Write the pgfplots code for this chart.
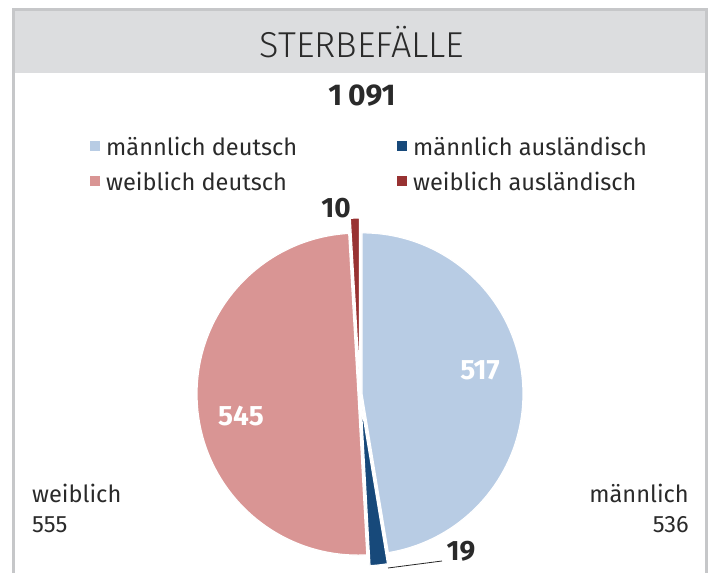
\documentclass[border=0pt]{standalone}
\usepackage{pgfplots}
\pgfplotsset{compat=1.18}
\usepackage{pgfplotstable}
\usepackage{fontspec}
\setmainfont{Fira Sans}
\newfontfamily\lightfont{Fira Sans Light}
\definecolor{mde}{HTML}{B8CCE4}
\definecolor{mau}{HTML}{17497A}
\definecolor{wde}{HTML}{D99594}
\definecolor{wau}{HTML}{983232}
\definecolor{barfill}{HTML}{DCDDDF}
\definecolor{barline}{HTML}{C6C7C9}
\definecolor{txt}{HTML}{2A2A2A}
\pgfplotstableread{
label value explode
mde 517 2
mau 19 11
wde 545 2
wau 10 15
}\piedata
\begin{document}
\begin{tikzpicture}[x=1pt,y=1pt]
\useasboundingbox (0,0) rectangle (715,573);
% frame and title bar
\fill[barfill] (13.5,500) rectangle (706.5,563);
\draw[barline, line width=3pt] (13.5,0) -- (13.5,563.5) -- (706.5,563.5) -- (706.5,0);
\node[txt, font=\lightfont\fontsize{36}{42}\selectfont] at (362,531) {STERBEFÄLLE};
\node[txt, font=\bfseries\fontsize{30}{36}\selectfont] at (362,477) {1\kern0.2em091};
% legend
\begin{scope}[txt, font=\fontsize{23.6}{27}\selectfont]
\fill[mde] (90,422) rectangle (100,432);
\node[anchor=west, inner sep=0pt] at (106,427) {männlich deutsch};
\fill[mau] (397,422) rectangle (407,432);
\node[anchor=west, inner sep=0pt] at (413,427) {männlich ausländisch};
\fill[wde] (90,387) rectangle (100,397);
\node[anchor=west, inner sep=0pt] at (106,392) {weiblich deutsch};
\fill[wau] (397,387) rectangle (407,397);
\node[anchor=west, inner sep=0pt] at (413,392) {weiblich ausländisch};
\node[anchor=west, align=left, inner sep=0pt, font=\fontsize{23.6}{30}\selectfont] at (32,65) {weiblich\\555};
\node[anchor=east, align=right, inner sep=0pt, font=\fontsize{23.6}{30}\selectfont] at (689,65) {männlich\\536};
\end{scope}
% values
\pgfplotstablegetelem{0}{value}\of\piedata \let\va\pgfplotsretval
\pgfplotstablegetelem{1}{value}\of\piedata \let\vb\pgfplotsretval
\pgfplotstablegetelem{2}{value}\of\piedata \let\vc\pgfplotsretval
\pgfplotstablegetelem{3}{value}\of\piedata \let\vd\pgfplotsretval
\pgfplotstablegetelem{0}{explode}\of\piedata \let\ea\pgfplotsretval
\pgfplotstablegetelem{1}{explode}\of\piedata \let\eb\pgfplotsretval
\pgfplotstablegetelem{2}{explode}\of\piedata \let\ec\pgfplotsretval
\pgfplotstablegetelem{3}{explode}\of\piedata \let\ed\pgfplotsretval
\pgfmathsetmacro\tot{\va+\vb+\vc+\vd}
\pgfmathsetmacro\aA{90}
\pgfmathsetmacro\aB{\aA-360*(\va/\tot)}
\pgfmathsetmacro\aC{\aB-360*(\vb/\tot)}
\pgfmathsetmacro\aD{\aC-360*(\vc/\tot)}
\pgfmathsetmacro\aE{\aD-360*(\vd/\tot)}
\def\R{161}
\newcommand\pwedge[4]{%
  \fill[#4, draw=white, line width=1.2pt]
    (axis cs:{#3*cos((#1+#2)/2)},{#3*sin((#1+#2)/2)}) -- ++(#1:\R pt)
    arc[start angle=#1, end angle=#2, radius=\R pt] -- cycle;}
\begin{axis}[at={(360,179)}, anchor=center, scale only axis,
  x=1pt, y=1pt, xmin=-180, xmax=180, ymin=-180, ymax=180,
  hide axis, clip=false]
\pwedge{\aA}{\aB}{\ea}{mde}
\pwedge{\aB}{\aC}{\eb}{mau}
\pwedge{\aC}{\aD}{\ec}{wde}
\pwedge{\aD}{\aE}{\ed}{wau}
\draw[black!85, line width=0.8pt] (axis cs:28,-174) -- (axis cs:82,-167);
\node[white, font=\bfseries\fontsize{28}{30}\selectfont] at (axis cs:120,24) {\va};
\node[white, font=\bfseries\fontsize{28}{30}\selectfont] at (axis cs:-119,-22) {\vc};
\node[txt, font=\bfseries\fontsize{28}{30}\selectfont] at (axis cs:101,-157) {\vb};
\node[txt, font=\bfseries\fontsize{28}{30}\selectfont] at (axis cs:-24,186) {\vd};
\end{axis}
\end{tikzpicture}
\end{document}
